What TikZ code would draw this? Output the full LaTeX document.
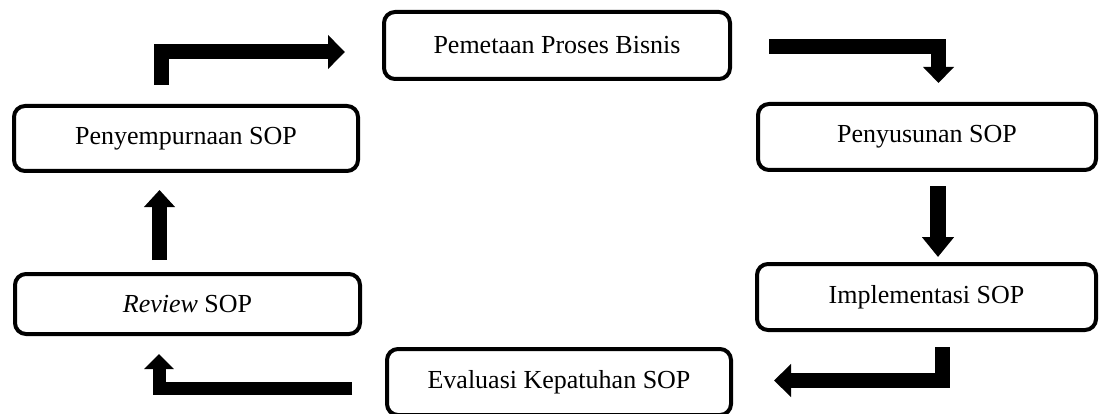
\documentclass[tikz,border=0pt]{standalone}
\usepackage{fontspec}
\setmainfont{Liberation Serif}
\usetikzlibrary{arrows.meta}
\begin{document}
\begin{tikzpicture}[x=1pt,y=-1pt,
  stepbox/.style={draw=black,line width=4pt,rounded corners=11pt,fill=white,
    inner sep=0pt,font=\fontsize{26}{30}\selectfont},
  flow/.style={line width=15pt,line join=miter,line cap=butt,draw=black},
]
\useasboundingbox (0,0) rectangle (1099,414);
\clip (0,0) rectangle (1099,414);
% boxes
\node[stepbox,minimum width=346pt,minimum height=67pt] (pemetaan) at (557,45.5) {Pemetaan Proses Bisnis};
\node[stepbox,minimum width=344pt,minimum height=65pt] (sempurna) at (186,138.5) {Penyempurnaan SOP};
\node[stepbox,minimum width=338pt,minimum height=66pt] (susun) at (927,137) {Penyusunan SOP};
\node[stepbox,minimum width=339pt,minimum height=66pt] (impl) at (926.5,297) {Implementasi SOP};
\node[stepbox,minimum width=345pt,minimum height=60pt] (review) at (187.5,304) {\textit{Review} SOP};
\node[stepbox,minimum width=344pt,minimum height=66pt] (eval) at (559,382) {Evaluasi Kepatuhan SOP};
% connector end points
\coordinate (a1s) at (161.5,85);
\coordinate (a1k) at (161.5,52);
\coordinate (a1e) at (345,52);
\coordinate (a2s) at (769,46.5);
\coordinate (a2k) at (938.5,46.5);
\coordinate (a2e) at (938.5,83);
\coordinate (a3s) at (938,186);
\coordinate (a3e) at (938,257);
\coordinate (a4s) at (942,347);
\coordinate (a4k) at (942,380.5);
\coordinate (a4e) at (774,380.5);
\coordinate (a5s) at (352,388);
\coordinate (a5k) at (159,388);
\coordinate (a5e) at (159,354);
\coordinate (a6s) at (159.5,260);
\coordinate (a6e) at (159.5,190);
% connectors
\draw[flow,-{Triangle[length=17pt,width=33pt]}] (a1s) -- (a1k) -- (a1e);
\draw[flow,-{Triangle[length=16pt,width=30pt]}] (a2s) -- (a2k) -- (a2e);
\draw[flow,line width=16pt,-{Triangle[length=20pt,width=31pt]}] (a3s) -- (a3e);
\draw[flow,-{Triangle[length=17pt,width=32pt]}] (a4s) -- (a4k) -- (a4e);
\draw[flow,line width=13pt,-{Triangle[length=15pt,width=29pt]}] (a5s) -- (a5k) -- (a5e);
\draw[flow,-{Triangle[length=17pt,width=30pt]}] (a6s) -- (a6e);
\end{tikzpicture}
\end{document}
